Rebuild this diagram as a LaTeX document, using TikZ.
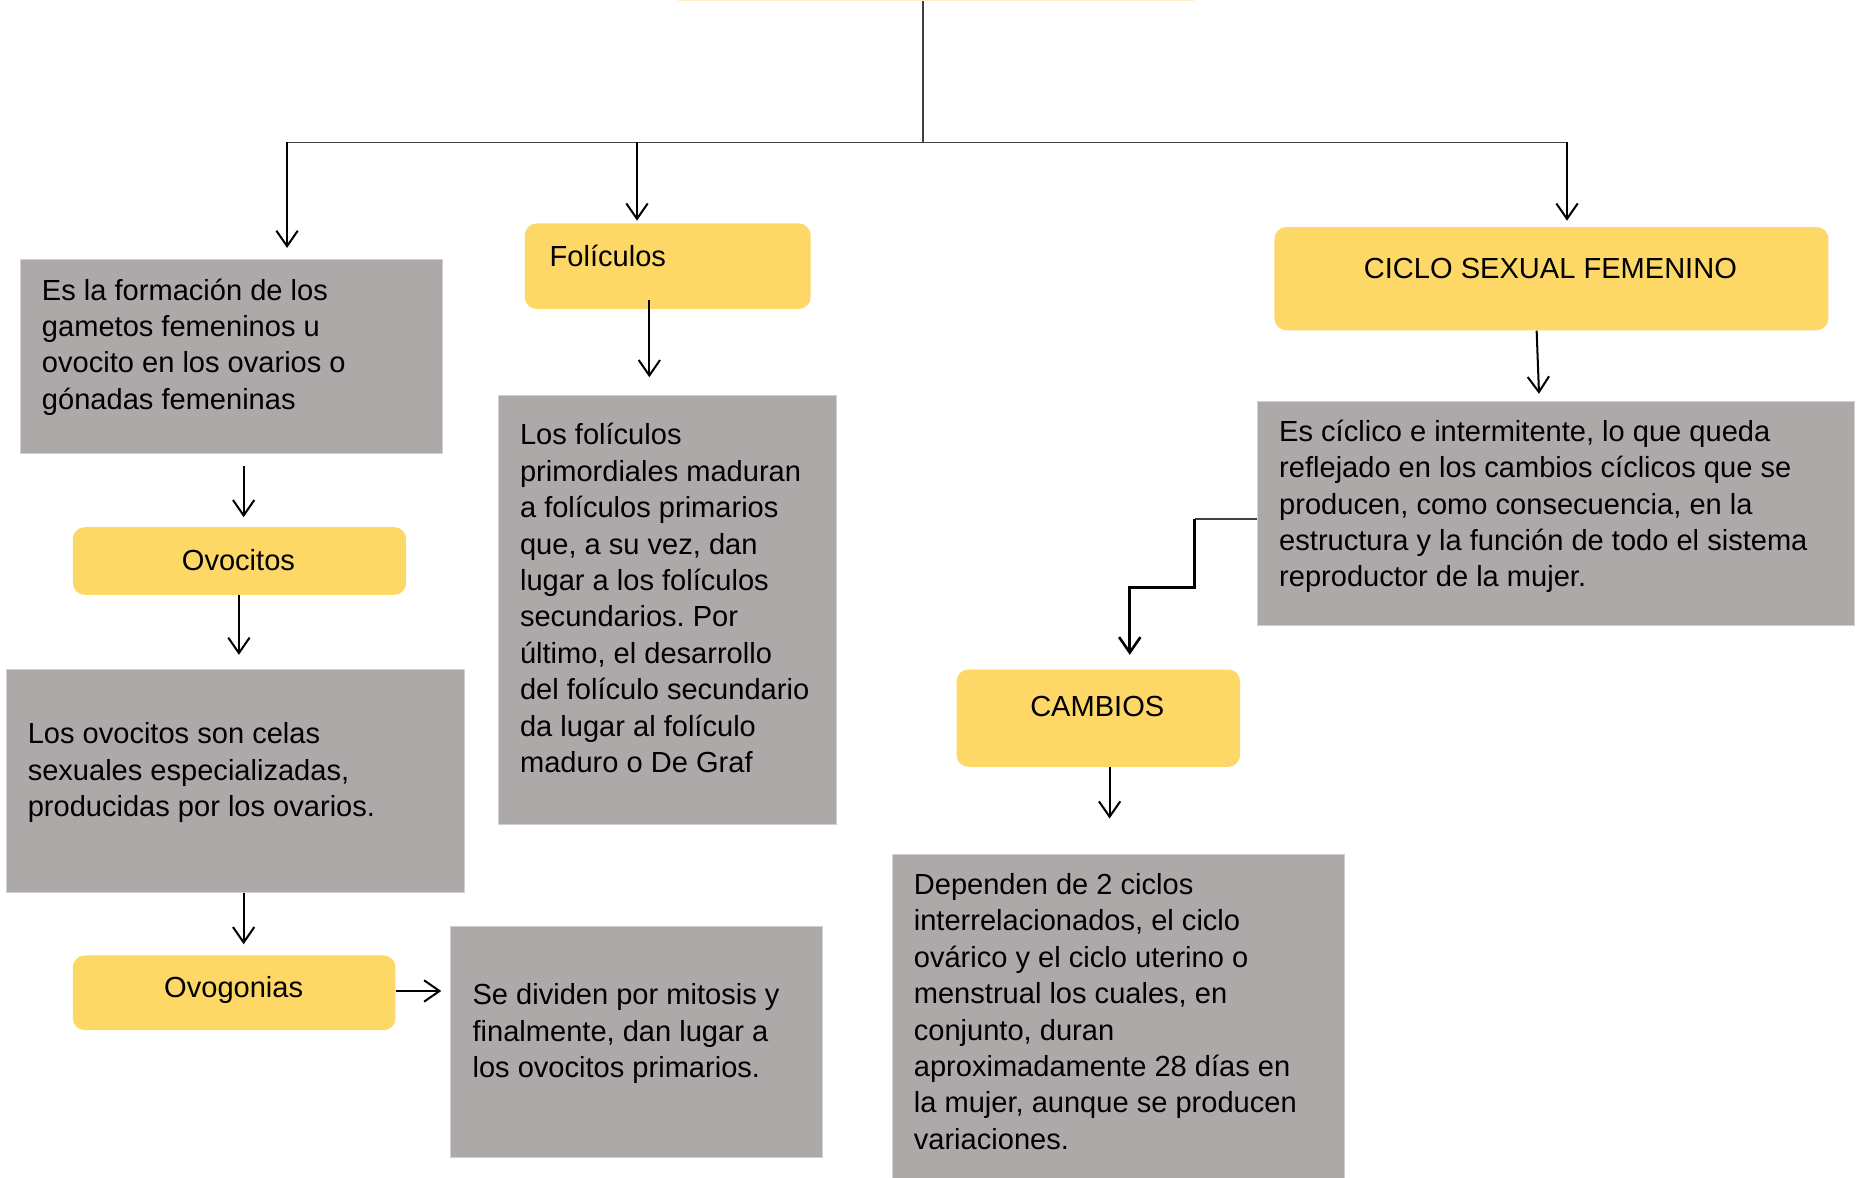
\documentclass[tikz,border=0pt]{standalone}
\usepackage{fontspec}
\setmainfont{Liberation Sans}
\usetikzlibrary{arrows.meta,calc}
\definecolor{ybox}{HTML}{FED866}
\definecolor{gboxc}{HTML}{ADA9A8}
\definecolor{treeline}{HTML}{404040}
\frenchspacing
\begin{document}
\begin{tikzpicture}[x=0.5pt,y=-0.5pt,
 ybx/.style={fill=ybox, rounded corners=5pt, anchor=north west, inner sep=0pt},
 gbx/.style={fill=gboxc, draw=gboxc!55!white, line width=0.4pt, anchor=north west, inner sep=0pt},
 txt/.style={font=\fontsize{12.25pt}{15.35pt}\selectfont, align=left, anchor=base west, inner sep=0pt},
 ctxt/.style={font=\fontsize{12.25pt}{15.35pt}\selectfont, anchor=base, inner sep=0pt},
 tree/.style={draw=treeline, line width=0.55pt},
 arr/.style={draw=black, line width=0.85pt, -{Straight Barb[length=6.5pt,width=9pt]}}]
\clip (0,0) rectangle (1568,993);
\fill[white] (0,0) rectangle (1568,993);

% yellow boxes
\node[ybx, minimum width=226.5pt, minimum height=30pt] (top) at (562,-60) {};
\node[ybx, minimum width=120.5pt, minimum height=36pt] (fol) at (442,188) {};
\node[ybx, minimum width=233.5pt, minimum height=43.5pt] (ciclo) at (1074,191) {};
\node[ybx, minimum width=119.5pt, minimum height=41pt] (camb) at (806,564) {};
\node[ybx, minimum width=140.5pt, minimum height=28.5pt] (ovoc) at (61,444) {};
\node[ybx, minimum width=136pt, minimum height=31.5pt] (ovog) at (61,805) {};

% gray boxes
\node[gbx, minimum width=178pt, minimum height=82pt] (A) at (17,218) {};
\node[gbx, minimum width=142.5pt, minimum height=181pt] (B) at (420,333) {};
\node[gbx, minimum width=251.5pt, minimum height=94.5pt] (C) at (1060,338) {};
\node[gbx, minimum width=190.5pt, minimum height=145pt] (D) at (752,720) {};
\node[gbx, minimum width=193pt, minimum height=94pt] (E) at (5,564) {};
\node[gbx, minimum width=157pt, minimum height=97pt] (F) at (379,781) {};

% texts (base anchor = baseline of last line)
\node[txt] (tfol) at (463,225) {Folículos};
\node[ctxt] (tciclo) at (1307,234.5) {CICLO SEXUAL FEMENINO};
\node[ctxt] (tcamb) at (925,604) {CAMBIOS};
\node[ctxt] (tovoc) at (201,480.5) {Ovocitos};
\node[ctxt] (tovog) at (197,841) {Ovogonias};

\node[txt] (tA) at (35,345.1) {Es la formación de los\\gametos femeninos u\\ovocito en los ovarios o\\gónadas femeninas};
\node[txt] (tB) at (438,651.3) {Los folículos\\primordiales maduran\\a folículos primarios\\que, a su vez, dan\\lugar a los folículos\\secundarios. Por\\último, el desarrollo\\del folículo secundario\\da lugar al folículo\\maduro o De Graf};
\node[txt] (tC) at (1078,494.8) {Es cíclico e intermitente, lo que queda\\reflejado en los cambios cíclicos que se\\producen, como consecuencia, en la\\estructura y la función de todo el sistema\\reproductor de la mujer.};
\node[txt] (tD) at (770,968.9) {Dependen de 2 ciclos\\interrelacionados, el ciclo\\ovárico y el ciclo uterino o\\menstrual los cuales, en\\conjunto, duran\\aproximadamente 28 días en\\la mujer, aunque se producen\\variaciones.};
\node[txt] (tE) at (23,688.4) {Los ovocitos son celas\\sexuales especializadas,\\producidas por los ovarios.};
\node[txt] (tF) at (398,908.4) {Se dividen por mitosis y\\finalmente, dan lugar a\\los ovocitos primarios.};

% tree
\coordinate (hub) at (778,120);
\coordinate (jA) at (242,120);
\coordinate (jB) at (537,120);
\coordinate (jC) at (1321,120);
\draw[tree] (top.south -| hub) -- (hub);
\draw[tree] (jA) -- ($(jC)+(1,0)$);
\draw[arr] (jA) -- ($(A.north -| jA)+(0,-9)$);
\draw[arr] (jB) -- ($(fol.north -| jB)+(0,-2)$);
\draw[arr] (jC) -- ($(ciclo.north -| jC)+(0,-5)$);

% connectors
\draw[arr] ($(fol.south)+(-15.5,-8)$) -- ($(B.north)+(-15.5,-15)$);
\draw[arr] ($(ciclo.south)+(-12.5,0)$) -- ($(C.north)+(-14.5,-6)$);
\draw[tree] ($(C.west)+(0,4.5)$) -- ($(C.west)+(-53,4.5)$);
\draw[arr, line width=1.1pt] ($(C.west)+(-53,4.5)$) -- ++(0,58) -| ($(camb.north)+(26.5,-12)$);
\draw[arr] ($(camb.south)+(9.5,0)$) -- ($(D.north)+(-7.5,-30)$);
\draw[arr] ($(A.south)+(10,10)$) -- ($(ovoc.north)+(3.5,-8)$);
\draw[arr] ($(ovoc.south)+(-0.5,0)$) -- ($(E.north)+(3,-12)$);
\draw[arr] ($(E.south)+(7,0)$) -- ($(ovog.north)+(8,-9)$);
\draw[arr] ($(ovog.east)+(0,-1.5)$) -- ($(F.west)+(-7,-43)$);
\end{tikzpicture}
\end{document}
